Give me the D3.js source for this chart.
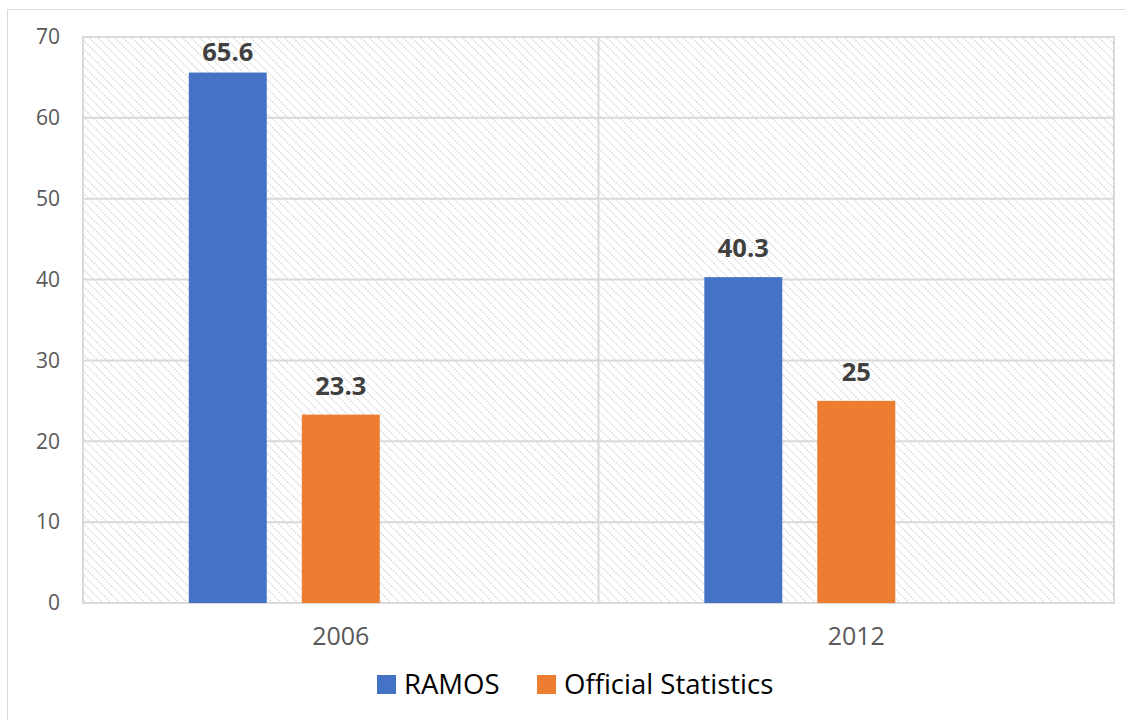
<!DOCTYPE html>
<html>
<head>
<meta charset="utf-8">
<script src="https://cdn.jsdelivr.net/npm/d3@7"></script>
<style>
  html, body { margin: 0; padding: 0; background: #fff; }
  svg { display: block; }
</style>
</head>
<body>
<svg id="chart" width="1125" height="720"></svg>
<script>
// Survey years and the two estimate sources
const categories = ["2006", "2012"];
const seriesNames = ["RAMOS", "Official Statistics"];
const ramosValues = [65.6, 40.3];
const officialValues = [23.3, 25];
const yTicks = [0, 10, 20, 30, 40, 50, 60, 70];
const seriesColors = ["#4472C4", "#ED7D31"];

const svg = d3.select("#chart");
const W = 1125, H = 720;
const plot = { left: 83, top: 37, right: 1114, bottom: 603 };
const font = "'Open Sans', 'Noto Sans', sans-serif";

// Hatched plot background
const defs = svg.append("defs");
const pat = defs.append("pattern")
  .attr("id", "hatch")
  .attr("patternUnits", "userSpaceOnUse")
  .attr("width", 6).attr("height", 6)
  .attr("patternTransform", "rotate(-45)");
pat.append("line")
  .attr("x1", 0).attr("y1", 0).attr("x2", 0).attr("y2", 6)
  .attr("stroke", "#d0d0d0").attr("stroke-width", 1.8)
  .attr("stroke-dasharray", "2 1");

// Outer chart frame
svg.append("rect")
  .attr("x", 7.5).attr("y", 9.5)
  .attr("width", W + 20).attr("height", H + 20)
  .attr("fill", "#fff").attr("stroke", "#d9d9d9").attr("stroke-width", 1);

const y = d3.scaleLinear().domain([0, 70]).range([plot.bottom, plot.top]);
const x0 = d3.scaleBand().domain(categories).range([plot.left, plot.right]).padding(0);
const cw = x0.bandwidth();
// Bars sit left of the category centre, as in a three-slot cluster with an empty slot
const x1 = d3.scaleBand().domain(seriesNames)
  .range([cw * 0.2052, cw * 0.5757]).paddingInner(0.31).paddingOuter(0);

svg.append("rect")
  .attr("x", plot.left).attr("y", plot.top)
  .attr("width", plot.right - plot.left).attr("height", plot.bottom - plot.top)
  .attr("fill", "url(#hatch)");

// Horizontal gridlines
svg.append("g").selectAll("line").data(yTicks).join("line")
  .attr("x1", plot.left).attr("x2", plot.right)
  .attr("y1", d => y(d)).attr("y2", d => y(d))
  .attr("stroke", "#d9d9d9").attr("stroke-width", 2);

// Vertical category dividers and plot border
svg.append("g").selectAll("line").data(categories.slice(1)).join("line")
  .attr("x1", d => x0(d)).attr("x2", d => x0(d))
  .attr("y1", plot.top).attr("y2", plot.bottom)
  .attr("stroke", "#d9d9d9").attr("stroke-width", 2);
svg.append("rect")
  .attr("x", plot.left).attr("y", plot.top)
  .attr("width", plot.right - plot.left).attr("height", plot.bottom - plot.top)
  .attr("fill", "none").attr("stroke", "#d9d9d9").attr("stroke-width", 2);

// Y axis labels
const yAxis = d3.axisLeft(y).tickValues(yTicks).tickSize(0).tickPadding(23);
const gy = svg.append("g").attr("transform", `translate(${plot.left},0)`).call(yAxis);
gy.select(".domain").remove();
gy.selectAll("text").attr("font-family", font).attr("font-size", 21).attr("fill", "#595959");

// X axis labels
const xAxis = d3.axisBottom(x0).tickSize(0).tickPadding(24);
const gx = svg.append("g").attr("transform", `translate(0,${plot.bottom})`).call(xAxis);
gx.select(".domain").remove();
gx.selectAll("text").attr("font-family", font).attr("font-size", 25).attr("fill", "#595959");

// Bars and value labels
const rows = categories.map((c, i) => ({
  cat: c,
  vals: [{ s: seriesNames[0], v: ramosValues[i] }, { s: seriesNames[1], v: officialValues[i] }]
}));
const groups = svg.append("g").selectAll("g").data(rows).join("g")
  .attr("transform", d => `translate(${x0(d.cat)},0)`);
groups.selectAll("rect").data(d => d.vals).join("rect")
  .attr("x", d => x1(d.s)).attr("width", x1.bandwidth())
  .attr("y", d => y(d.v)).attr("height", d => y(0) - y(d.v))
  .attr("fill", (d, i) => seriesColors[i]);
// Labels sit above each bar, kept inside the plot area near the top
groups.selectAll("text").data(d => d.vals).join("text")
  .attr("x", d => x1(d.s) + x1.bandwidth() / 2)
  .attr("y", d => Math.max(y(d.v) - 20, plot.top + 24))
  .attr("text-anchor", "middle")
  .attr("font-family", font).attr("font-size", 25.5).attr("font-weight", "bold")
  .attr("fill", "#404040")
  .text(d => d.v);

// Legend
const legend = svg.append("g").attr("transform", "translate(377,684.5)");
const legendX = [0, 160];
seriesNames.forEach((s, i) => {
  const g = legend.append("g").attr("transform", `translate(${legendX[i]},0)`);
  g.append("rect").attr("x", 0).attr("y", -9.5).attr("width", 19).attr("height", 19)
    .attr("fill", seriesColors[i]);
  g.append("text").attr("x", 27).attr("y", 0).attr("dy", "0.36em")
    .attr("font-family", font).attr("font-size", 27.5).attr("fill", "#000")
    .text(s);
});
</script>
</body>
</html>
